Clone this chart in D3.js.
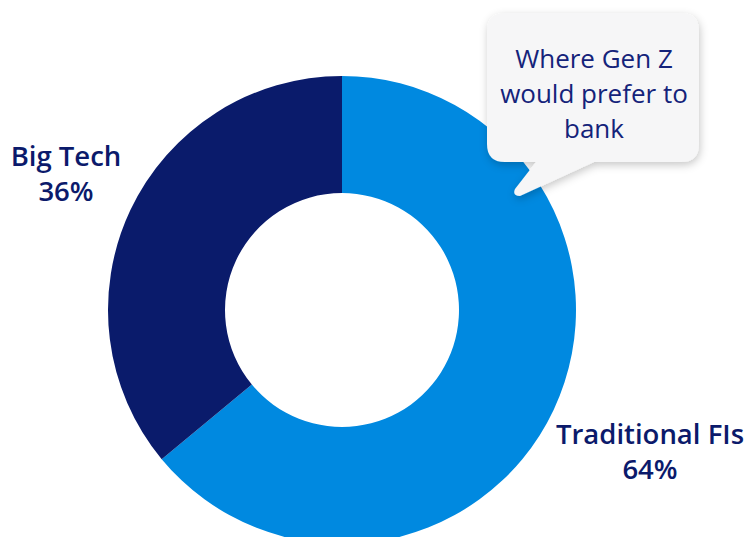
<!DOCTYPE html>
<html>
<head>
<meta charset="utf-8">
<script src="https://cdn.jsdelivr.net/npm/d3@7"></script>
<style>
  body { margin: 0; background: #ffffff; }
  svg { display: block; font-family: "Open Sans", "Noto Sans", sans-serif; }
</style>
</head>
<body>
<div id="chart"></div>
<script>
// data
var categories = ["Traditional FIs", "Big Tech"];
var shares = [64, 36];
var sliceColors = ["#0089e0", "#0a1b6b"];
var calloutLines = ["Where Gen Z", "would prefer to", "bank"];

var width = 747, height = 537;
var cx = 342, cy = 310;
var outerR = 234, innerR = 117;

var svg = d3.select("#chart").append("svg")
    .attr("width", width)
    .attr("height", height);

// soft shadow for the speech bubble
var defs = svg.append("defs");
defs.append("filter")
    .attr("id", "shadow")
    .attr("x", "-20%").attr("y", "-20%")
    .attr("width", "140%").attr("height", "150%")
  .append("feDropShadow")
    .attr("dx", 1).attr("dy", 3)
    .attr("stdDeviation", 4)
    .attr("flood-color", "#000")
    .attr("flood-opacity", 0.22);

var pie = d3.pie().sort(null).value(function(d) { return d; });
var arc = d3.arc().innerRadius(innerR).outerRadius(outerR);

var g = svg.append("g").attr("transform", "translate(" + cx + "," + cy + ")");
g.selectAll("path")
    .data(pie(shares))
    .enter()
    .append("path")
    .attr("d", arc)
    .attr("fill", function(d, i) { return sliceColors[i]; });

// labels
var labelColor = "#0b1a6b";
var labels = [
    {x: 650, y: 444, i: 0},
    {x: 66, y: 166, i: 1}
];
labels.forEach(function(l) {
    var t = svg.append("text")
        .attr("text-anchor", "middle")
        .attr("fill", labelColor)
        .attr("font-size", 27.5)
        .attr("font-weight", 600);
    t.append("tspan").attr("x", l.x).attr("y", l.y).text(categories[l.i]);
    t.append("tspan").attr("x", l.x).attr("y", l.y + 35).text(shares[l.i] + "%");
});

// speech bubble
var bx = 487, by = 13, bw = 212, bh = 149, r = 18;
var bubble = d3.path();
bubble.moveTo(bx + r, by);
bubble.lineTo(bx + bw - r, by);
bubble.quadraticCurveTo(bx + bw, by, bx + bw, by + r);
bubble.lineTo(bx + bw, by + bh - r);
bubble.quadraticCurveTo(bx + bw, by + bh, bx + bw - r, by + bh);
bubble.lineTo(594, by + bh);
bubble.lineTo(520, 196);
bubble.quadraticCurveTo(512, 196, 515, 189);
bubble.lineTo(536, by + bh);
bubble.lineTo(bx + r, by + bh);
bubble.quadraticCurveTo(bx, by + bh, bx, by + bh - r);
bubble.lineTo(bx, by + r);
bubble.quadraticCurveTo(bx, by, bx + r, by);
bubble.closePath();

svg.append("path")
    .attr("d", bubble.toString())
    .attr("fill", "#f6f6f7")
    .attr("filter", "url(#shadow)");

var ct = svg.append("text")
    .attr("text-anchor", "middle")
    .attr("fill", "#14237a")
    .attr("font-size", 26);
calloutLines.forEach(function(s, i) {
    ct.append("tspan").attr("x", 594).attr("y", 68 + i * 35).text(s);
});
</script>
</body>
</html>
